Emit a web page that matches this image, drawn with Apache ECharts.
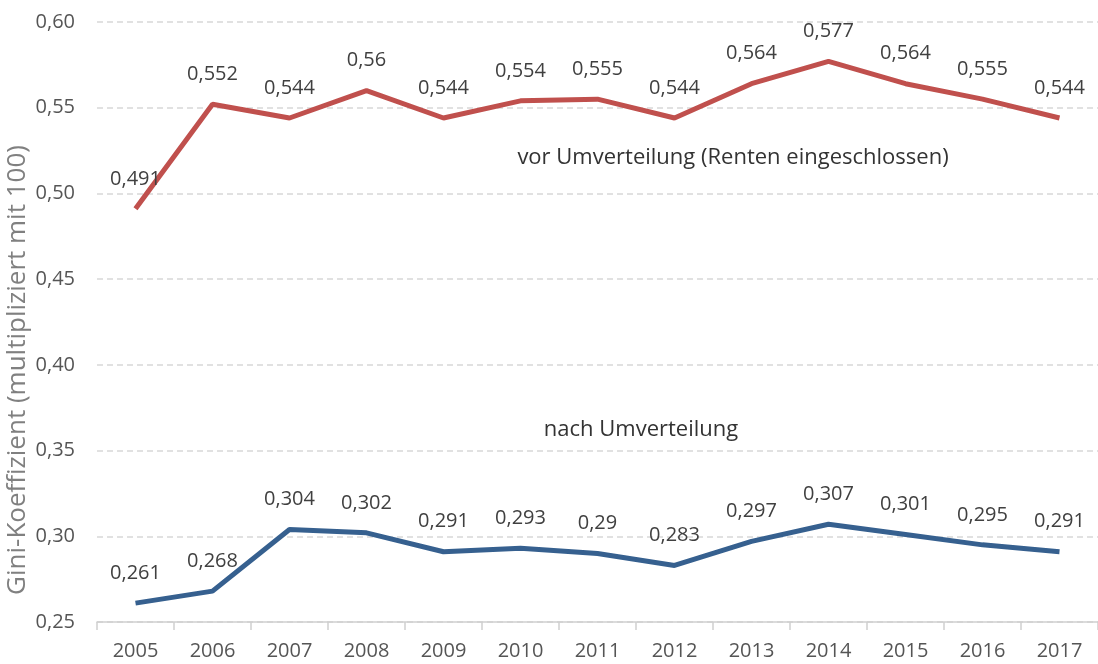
<!DOCTYPE html>
<html>
<head>
<meta charset="utf-8">
<script src="https://cdn.jsdelivr.net/npm/echarts@6/dist/echarts.min.js"></script>
<style>
  html, body { margin: 0; padding: 0; background: #fff; }
  #chart { width: 1098px; height: 664px; }
</style>
</head>
<body>
<div id="chart"></div>
<script>
const years = ['2005', '2006', '2007', '2008', '2009', '2010', '2011', '2012', '2013', '2014', '2015', '2016', '2017']
const vorUmverteilung = [0.491, 0.552, 0.544, 0.56, 0.544, 0.554, 0.555, 0.544, 0.564, 0.577, 0.564, 0.555, 0.544]
const nachUmverteilung = [0.261, 0.268, 0.304, 0.302, 0.291, 0.293, 0.29, 0.283, 0.297, 0.307, 0.301, 0.295, 0.291]

const font = '"Open Sans", "Noto Sans", sans-serif'
const comma = v => String(v).replace('.', ',')

const chart = echarts.init(document.getElementById('chart'))

const labelStyle = {
  show: true,
  position: 'top',
  distance: 20,
  fontFamily: font,
  fontSize: 20,
  color: '#404040',
  formatter: p => comma(p.value)
}

const option = {
  animation: false,
  grid: { left: 97, right: 0, top: 22, bottom: 42 },
  xAxis: {
    type: 'category',
    data: years,
    boundaryGap: true,
    axisLine: { lineStyle: { color: '#d0d0d0', width: 1.5 } },
    axisTick: { show: true, length: 8, lineStyle: { color: '#d0d0d0', width: 1.5 } },
    axisLabel: { fontFamily: font, fontSize: 20, color: '#555', margin: 19 }
  },
  yAxis: {
    type: 'value',
    min: 0.25,
    max: 0.6,
    interval: 0.05,
    axisLine: { show: false },
    axisTick: { show: false },
    splitLine: { lineStyle: { color: '#d8d8d8', type: [6, 4], width: 1.5 } },
    axisLabel: {
      fontFamily: font,
      fontSize: 20,
      color: '#555',
      margin: 22,
      formatter: v => v.toFixed(2).replace('.', ',')
    }
  },
  graphic: [
    {
      type: 'text',
      x: 18,
      y: 370,
      rotation: Math.PI / 2,
      style: {
        text: 'Gini-Koeffizient (multipliziert mit 100)',
        font: '26px ' + font,
        fill: '#808080',
        align: 'center',
        verticalAlign: 'middle'
      }
    },
    {
      type: 'text',
      x: 733,
      y: 158,
      style: {
        text: 'vor Umverteilung (Renten eingeschlossen)',
        font: '22px ' + font,
        fill: '#333',
        align: 'center',
        verticalAlign: 'middle'
      }
    },
    {
      type: 'text',
      x: 641,
      y: 430,
      style: {
        text: 'nach Umverteilung',
        font: '22px ' + font,
        fill: '#333',
        align: 'center',
        verticalAlign: 'middle'
      }
    }
  ],
  series: [
    {
      name: 'vor Umverteilung',
      type: 'line',
      data: vorUmverteilung,
      symbol: 'circle',
      symbolSize: 0,
      showSymbol: true,
      lineStyle: { color: '#c0504d', width: 5 },
      itemStyle: { color: '#c0504d' },
      label: labelStyle
    },
    {
      name: 'nach Umverteilung',
      type: 'line',
      data: nachUmverteilung,
      symbol: 'circle',
      symbolSize: 0,
      showSymbol: true,
      lineStyle: { color: '#36608f', width: 5 },
      itemStyle: { color: '#36608f' },
      label: labelStyle
    }
  ]
}

chart.setOption(option)
</script>
</body>
</html>
